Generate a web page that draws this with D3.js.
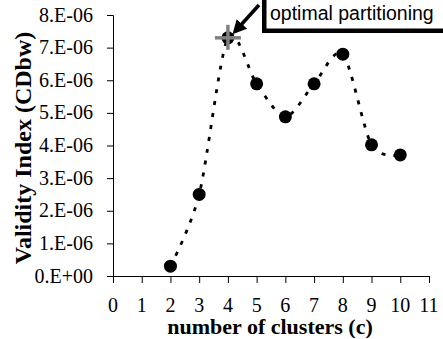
<!DOCTYPE html>
<html>
<head>
<meta charset="utf-8">
<script src="https://cdn.jsdelivr.net/npm/d3@7"></script>
<style>
  #chart text { font-family: "Liberation Serif", "Times New Roman", Tinos, Times, serif !important; }
  #chart text.note { font-family: "Liberation Sans", Arial, sans-serif !important; }
</style>
</head>
<body style="margin:0">
<svg id="chart" width="443" height="339" style="display:block;background:#fff"></svg>
<script>
// Cluster validity index (CDbw) versus number of clusters
const clusters = [2, 3, 4, 5, 6, 7, 8, 9, 10];
const cdbw = [0.30e-6, 2.50e-6, 7.30e-6, 5.89e-6, 4.88e-6, 5.89e-6, 6.80e-6, 4.02e-6, 3.71e-6];
const optimalC = 4;
const xTicks = [0, 1, 2, 3, 4, 5, 6, 7, 8, 9, 10, 11];
const yTicks = [0, 1e-6, 2e-6, 3e-6, 4e-6, 5e-6, 6e-6, 7e-6, 8e-6];
const yTickLabels = ["0.E+00", "1.E-06", "2.E-06", "3.E-06", "4.E-06", "5.E-06", "6.E-06", "7.E-06", "8.E-06"];

const SERIF = "serif";

const svg = d3.select("#chart");

const x = d3.scaleLinear().domain([0, 11]).range([113, 429]);
const y = d3.scaleLinear().domain([0, 8e-6]).range([276, 15]);

// y axis, labels drawn separately
const yAxis = svg.append("g")
  .attr("transform", `translate(${x(0)},0)`)
  .call(d3.axisLeft(y).tickValues(yTicks).tickSizeOuter(0).tickSize(6).tickFormat(""));
yAxis.select(".domain").attr("stroke", "#000");
yAxis.selectAll(".tick line").attr("stroke", "#000");
yAxis.selectAll(".tick text").remove();
svg.append("g").selectAll("text")
  .data(yTicks)
  .join("text")
  .style("font-family", SERIF).style("font-size", "20px")
  .attr("text-anchor", "end")
  .attr("x", x(0) - 20)
  .attr("y", d => y(d))
  .attr("dy", "0.33em")
  .attr("fill", "#000")
  .text((d, i) => yTickLabels[i]);

// x axis, labels drawn separately
const xAxis = svg.append("g")
  .attr("transform", `translate(0,${y(0)})`)
  .call(d3.axisBottom(x).tickValues(xTicks).tickSizeOuter(0).tickSize(7).tickFormat(""));
xAxis.select(".domain").attr("stroke", "#000");
xAxis.selectAll(".tick line").attr("stroke", "#000");
xAxis.selectAll(".tick text").remove();
svg.append("g").selectAll("text")
  .data(xTicks)
  .join("text")
  .style("font-family", SERIF).style("font-size", "20px")
  .attr("text-anchor", "middle")
  .attr("x", d => x(d))
  .attr("y", y(0) + 36)
  .attr("fill", "#000")
  .text(d => d3.format("d")(d));

// axis titles
svg.append("text")
  .style("font-family", SERIF)
  .attr("x", 270).attr("y", 334)
  .attr("text-anchor", "middle")
  .style("font-weight", "bold").style("font-size", "22px")
  .text("number of clusters (c)");

svg.append("text")
  .style("font-family", SERIF)
  .attr("transform", "translate(31,148) rotate(-90)")
  .attr("text-anchor", "middle")
  .style("font-weight", "bold").style("font-size", "24px")
  .text("Validity Index (CDbw)");

// smoothed dotted series line
const pts = clusters.map((c, i) => [c, cdbw[i]]);
const line = d3.line()
  .x(d => x(d[0])).y(d => y(d[1]))
  .curve(d3.curveCardinal.tension(0.15));
svg.append("path")
  .datum(pts)
  .attr("d", line)
  .attr("fill", "none")
  .attr("stroke", "#000")
  .attr("stroke-width", 2.8)
  .attr("stroke-dasharray", "4,8");

// markers
svg.append("g").selectAll("circle")
  .data(pts)
  .join("circle")
  .attr("cx", d => x(d[0])).attr("cy", d => y(d[1]))
  .attr("r", 6.5)
  .attr("fill", "#000");

// optimal partition cross
const opt = pts.find(d => d[0] === optimalC);
const ox = x(opt[0]), oy = y(opt[1]);
const cross = svg.append("g").attr("stroke", "#808080").attr("stroke-width", 3.5);
cross.append("line").attr("x1", ox - 13).attr("x2", ox + 13).attr("y1", oy).attr("y2", oy);
cross.append("line").attr("x1", ox).attr("x2", ox).attr("y1", oy - 13).attr("y2", oy + 12);

// annotation box with shadow
svg.append("rect").attr("x", 262).attr("y", -6).attr("width", 200).attr("height", 39).attr("fill", "#000");
svg.append("rect").attr("x", 266).attr("y", -10).attr("width", 200).attr("height", 39)
  .attr("fill", "#fff").attr("stroke", "#000").attr("stroke-width", 1);
svg.append("text")
  .attr("class", "note")
  .attr("x", 270).attr("y", 20)
  .style("font-size", "19.5px").attr("fill", "#000")
  .text("optimal partitioning");

// arrow pointing to the optimum
svg.append("defs").append("marker")
  .attr("id", "arrowhead")
  .attr("viewBox", "0 0 10 10").attr("refX", 2).attr("refY", 5)
  .attr("markerWidth", 4).attr("markerHeight", 4)
  .attr("orient", "auto")
  .append("path").attr("d", "M0,0 L10,5 L0,10 Z").attr("fill", "#000");
svg.append("line")
  .attr("x1", 259).attr("y1", 5).attr("x2", 240).attr("y2", 26)
  .attr("stroke", "#000").attr("stroke-width", 3.5)
  .attr("marker-end", "url(#arrowhead)");
</script>
</body>
</html>
